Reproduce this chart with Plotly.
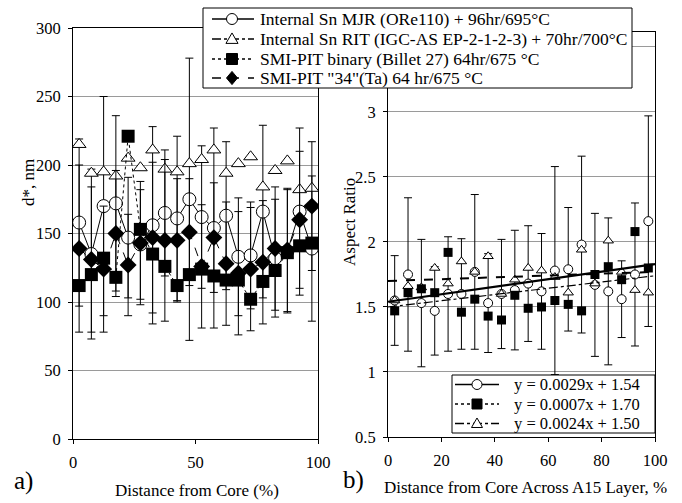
import plotly.graph_objects as go

# ---------------- data ----------------
x_pos = [2.5, 7.5, 12.5, 17.5, 22.5, 27.5, 32.5, 37.5, 42.5, 47.5,
         52.5, 57.5, 62.5, 67.5, 72.5, 77.5, 82.5, 87.5, 92.5, 97.5]

# panel a) d*, nm
mjr_d = [158, 135, 170, 172, 147, 142, 156, 165, 161, 175,
         162, 154, 163, 133, 134, 166, 132, 137, 166, 139]
mjr_d_err = [61, 62, 80, 64, 44, 40, 72, 46, 60, 103,
             52, 73, 54, 43, 39, 63, 43, 45, 61, 53]
rit_d = [215, 194, 195, 192, 205, 198, 211, 197, 195, 201,
         204, 211, 194, 201, 206, 184, 196, 203, 182, 183]
bin_d = [112, 120, 132, 118, 221, 153, 135, 126, 112, 120,
         124, 119, 116, 116, 102, 115, 123, 136, 141, 143]
ta_d = [139, 131, 124, 150, 127, 143, 147, 145, 145, 151,
        126, 147, 128, 121, 124, 129, 139, 138, 160, 170]
ta_d_err = [61, 53, 46, 46, 37, 45, 55, 59, 45, 39,
            45, 40, 45, 45, 45, 45, 45, 45, 50, 47]

# panel b) aspect ratio
mjr_ar = [1.55, 1.75, 1.53, 1.47, 1.60, 1.60, 1.77, 1.53, 1.60, 1.63,
          1.68, 1.62, 1.78, 1.79, 1.98, 1.67, 1.62, 1.56, 1.75, 2.16]
mjr_ar_err = [0.345, 0.59, 0.49, 0.34, 0.44, 0.425, 0.595, 0.38, 0.42, 0.46,
              0.445, 0.445, 0.80, 0.475, 0.68, 0.55, 0.565, 0.295, 0.55, 0.81]
bin_ar = [1.47, 1.61, 1.64, 1.61, 1.92, 1.46, 1.56, 1.43, 1.40, 1.59,
          1.49, 1.50, 1.55, 1.52, 1.47, 1.75, 1.81, 1.71, 2.08, 1.80]
rit_ar = [1.55, 1.66, 1.65, 1.80, 1.68, 1.85, 1.77, 1.89, 1.60, 1.71,
          1.80, 1.78, 1.73, 1.61, 1.94, 1.68, 2.01, 1.77, 1.63, 1.61]

# linear fits shown in panel b legend: slope, intercept
fit_slopes = [0.0029, 0.0007, 0.0024]
fit_intercepts = [1.54, 1.70, 1.50]
fit_labels = ["y = 0.0029x + 1.54", "y = 0.0007x + 1.70", "y = 0.0024x + 1.50"]
fit_x = [0, 100]

series_names = ["Internal Sn MJR (ORe110) + 96hr/695°C",
                "Internal Sn RIT (IGC-AS EP-2-1-2-3) + 70hr/700°C",
                "SMI-PIT binary (Billet 27) 64hr/675 °C",
                "SMI-PIT \"34\"(Ta) 64 hr/675 °C"]

# ---------------- figure ----------------
W, H = 682, 503
FONT = "Liberation Serif"
fig = go.Figure()

open_c = dict(symbol="circle", color="white", line=dict(color="black", width=1))
open_t = dict(symbol="triangle-up", color="white", line=dict(color="black", width=1))
fill_s = dict(symbol="square", color="black", line=dict(color="black", width=0))
fill_d = dict(symbol="diamond", color="black", line=dict(color="black", width=0))


def eb(arr):
    return dict(type="data", array=arr, visible=True, color="black", thickness=1, width=4)


# panel a
fig.add_trace(go.Scatter(x=x_pos, y=mjr_d, mode="lines+markers", xaxis="x", yaxis="y",
                         line=dict(color="black", width=1),
                         marker=dict(size=13, **open_c), error_y=eb(mjr_d_err)))
fig.add_trace(go.Scatter(x=x_pos, y=rit_d, mode="markers", xaxis="x", yaxis="y",
                         marker=dict(size=12, **open_t)))
fig.add_trace(go.Scatter(x=x_pos, y=ta_d, mode="lines+markers", xaxis="x", yaxis="y",
                         line=dict(color="black", width=1, dash="dash"),
                         marker=dict(size=13, **fill_d), error_y=eb(ta_d_err)))
fig.add_trace(go.Scatter(x=x_pos, y=bin_d, mode="lines+markers", xaxis="x", yaxis="y",
                         line=dict(color="black", width=1, dash="dot"),
                         marker=dict(size=13, **fill_s)))

# panel b
fig.add_trace(go.Scatter(x=x_pos, y=mjr_ar, mode="markers", xaxis="x2", yaxis="y2",
                         marker=dict(size=9, **open_c), error_y=eb(mjr_ar_err)))
fig.add_trace(go.Scatter(x=x_pos, y=rit_ar, mode="markers", xaxis="x2", yaxis="y2",
                         marker=dict(size=9, **open_t)))
fig.add_trace(go.Scatter(x=x_pos, y=bin_ar, mode="markers", xaxis="x2", yaxis="y2",
                         marker=dict(size=9, **fill_s)))
fit_styles = [dict(color="black", width=2.2),
              dict(color="black", width=2, dash="dash"),
              dict(color="black", width=1.2, dash="dashdot")]
for s, b, st in zip(fit_slopes, fit_intercepts, fit_styles):
    fig.add_trace(go.Scatter(x=fit_x, y=[s * xx + b for xx in fit_x], mode="lines",
                             xaxis="x2", yaxis="y2", line=st))


def px(v):
    return v / W


def py(v):
    return (H - v) / H


axis_common = dict(showline=True, linecolor="black", linewidth=1, mirror=True,
                   ticks="outside", ticklen=4, tickcolor="black", zeroline=False,
                   automargin=False, ticklabelstandoff=4,
                   tickfont=dict(family=FONT, size=16.5, color="black"))

fig.update_layout(
    width=W, height=H, showlegend=False,
    margin=dict(l=0, r=0, t=0, b=0, autoexpand=False),
    paper_bgcolor="white", plot_bgcolor="white",
    font=dict(family=FONT, color="black"),
    xaxis=dict(domain=[px(73), px(318)], range=[0, 100], tickvals=[0, 50, 100],
               showgrid=False, anchor="y", **axis_common),
    yaxis=dict(domain=[py(439), py(28)], range=[0, 300], tickvals=[0, 50, 100, 150, 200, 250, 300],
               showgrid=True, gridcolor="#9a9a9a", gridwidth=1, anchor="x", **axis_common),
    xaxis2=dict(domain=[px(388), px(655)], range=[0, 100], tickvals=[0, 20, 40, 60, 80, 100],
                showgrid=False, anchor="y2", **axis_common),
    yaxis2=dict(domain=[py(437), py(32)], range=[0.5, 3.615],
                tickvals=[0.5, 1, 1.5, 2, 2.5, 3, 3.5], ticktext=["0.5", "1", "1.5", "2", "2.5", "3", ""],
                showgrid=True, gridcolor="#9a9a9a", gridwidth=1, anchor="x2", **axis_common),
)

# ---------------- manual legends (layout decorations in pixel space) ----------------
shapes = []


def box(x0, y0, x1, y1):
    shapes.append(dict(type="rect", xref="paper", yref="paper", x0=px(x0), x1=px(x1),
                       y0=py(y1), y1=py(y0), fillcolor="white", line=dict(color="black", width=1),
                       layer="above"))


def seg(x0, x1, y, dash, width):
    shapes.append(dict(type="line", xref="paper", yref="paper", x0=px(x0), x1=px(x1),
                       y0=py(y), y1=py(y), line=dict(color="black", width=width, dash=dash),
                       layer="above"))


def mark(kind, cx, cy, r):
    fill = "black" if kind in ("square", "diamond") else "white"
    ln = dict(color="black", width=1)
    if kind == "circle":
        shapes.append(dict(type="circle", xref="paper", yref="paper", x0=px(cx - r), x1=px(cx + r),
                           y0=py(cy + r), y1=py(cy - r), fillcolor=fill, line=ln, layer="above"))
    elif kind == "square":
        shapes.append(dict(type="rect", xref="paper", yref="paper", x0=px(cx - r), x1=px(cx + r),
                           y0=py(cy + r), y1=py(cy - r), fillcolor=fill, line=ln, layer="above"))
    else:
        if kind == "triangle":
            pts = [(cx, cy - r * 1.1), (cx + r * 1.1, cy + r * 0.8), (cx - r * 1.1, cy + r * 0.8)]
        else:
            pts = [(cx, cy - r * 1.2), (cx + r, cy), (cx, cy + r * 1.2), (cx - r, cy)]
        path = "M " + " L ".join(f"{px(a):.5f},{py(b):.5f}" for a, b in pts) + " Z"
        shapes.append(dict(type="path", xref="paper", yref="paper", path=path,
                           fillcolor=fill, line=ln, layer="above"))


# legend 1 (series)
box(203, 8, 632, 88)
leg_rows = [19, 39, 59, 78]
leg_kinds = ["circle", "triangle", "square", "diamond"]
leg_dash = ["solid", "dashdot", "dot", "dash"]
for name, yy, kind, dsh in zip(series_names, leg_rows, leg_kinds, leg_dash):
    seg(212, 254, yy, dsh, 1.3)
    mark(kind, 232, yy, 5.5)
    fig.add_annotation(text=name, x=px(258), y=py(yy), xanchor="left", yanchor="middle",
                       showarrow=False, xref="paper", yref="paper",
                       font=dict(family=FONT, size=17.5, color="black"))

# legend 2 (fits)
box(452, 375, 655, 433)
leg2_rows = [384.5, 404, 423.5]
leg2_kinds = ["circle", "square", "triangle"]
leg2_dash = ["solid", "dot", "dashdot"]
for name, yy, kind, dsh in zip(fit_labels, leg2_rows, leg2_kinds, leg2_dash):
    seg(455, 499, yy, dsh, 1.5)
    mark(kind, 477, yy, 5)
    fig.add_annotation(text=name, x=px(512), y=py(yy), xanchor="left", yanchor="middle",
                       showarrow=False, xref="paper", yref="paper",
                       font=dict(family=FONT, size=16.5, color="black"))

fig.update_layout(shapes=shapes)

ann = dict(showarrow=False, xref="paper", yref="paper", font=dict(family=FONT, size=17, color="black"))
fig.add_annotation(text="Distance from Core (%)", x=px(197), y=py(490), xanchor="center", yanchor="middle", **ann)
fig.add_annotation(text="Distance from Core Across A15 Layer, %", x=px(525), y=py(487), xanchor="center", yanchor="middle", **ann)
fig.add_annotation(text="d*, nm", x=px(29), y=py(182), textangle=-90, xanchor="center", yanchor="middle", **ann)
fig.add_annotation(text="Aspect Ratio", x=px(349), y=py(222), textangle=-90, xanchor="center", yanchor="middle", **ann)
fig.add_annotation(text="a)", x=px(23), y=py(481), xanchor="center", yanchor="middle",
                   showarrow=False, xref="paper", yref="paper", font=dict(family=FONT, size=25, color="black"))
fig.add_annotation(text="b)", x=px(353), y=py(480), xanchor="center", yanchor="middle",
                   showarrow=False, xref="paper", yref="paper", font=dict(family=FONT, size=25, color="black"))

fig.write_html("out.html", config={"displayModeBar": False},
               post_script="document.body.style.margin='0px';")
